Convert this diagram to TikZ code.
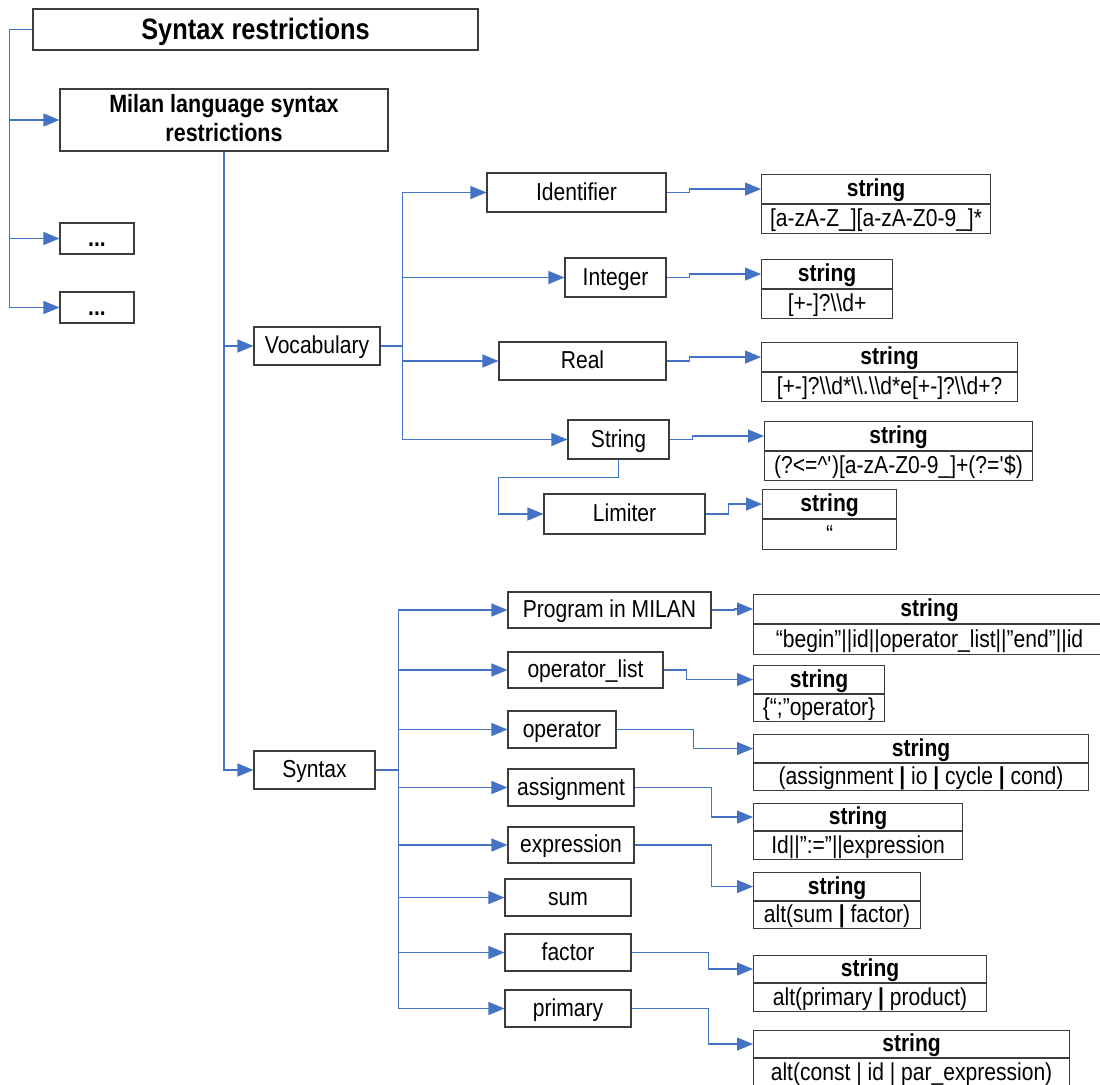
\documentclass[tikz,border=0pt]{standalone}
\usepackage{fontspec}
\setmainfont[FakeStretch=0.86]{Liberation Sans}
\usetikzlibrary{arrows.meta}
\definecolor{linkblue}{HTML}{4472C4}
\definecolor{edgegray}{HTML}{3C3C3C}
\newcommand\bsl{\textbackslash}
% a "string" record: header cell on top of a value cell
% #1 name, #2 x, #3 top y, #4 width, #5 header height, #6 value height, #7 value
\newcommand\strbox[7]{%
  \node[hdr,minimum width=#4pt,minimum height=#5pt] (#1) at (#2,#3) {string};
  \node[bdy,minimum width=#4pt,minimum height=#6pt] (#1b) at (#1.south west) {#7};}

\begin{document}
\begin{tikzpicture}[x=1pt,y=-1pt,
  box/.style={draw=edgegray,line width=1.1pt,fill=white,inner sep=0pt,
    font=\fontsize{24.5}{29}\selectfont,text height=17.5pt,text depth=2.5pt},
  hdr/.style={box,anchor=north west,font=\fontsize{24.5}{29}\selectfont\bfseries},
  bdy/.style={box,anchor=north west},
  link/.style={draw=linkblue,line width=1.2pt,-{Triangle[length=16pt,width=13pt]}}
]
\useasboundingbox (0,0) rectangle (1100,1084);
\fill[white] (0,0) rectangle (1100,1084);

% ---------- top level ----------
\node[box,minimum width=445pt,minimum height=41pt,
  font=\fontsize{29.5}{35}\selectfont\bfseries,text height=21.5pt,text depth=2pt]
  (title) at (255.5,29.5) {Syntax restrictions};
\node[box,minimum width=328pt,minimum height=62pt] (milan) at (224,120) {};
\node[font=\fontsize{25}{28.5}\selectfont\bfseries,align=center,inner sep=0pt]
  (milanlbl) at (224,118.3) {Milan language syntax\\restrictions};
\node[box,minimum width=74pt,minimum height=31pt,font=\fontsize{24.5}{29}\selectfont\bfseries]
  (dotsA) at (97,238.5) {...};
\node[box,minimum width=74pt,minimum height=31pt,font=\fontsize{24.5}{29}\selectfont\bfseries]
  (dotsB) at (97,307.5) {...};

% ---------- vocabulary branch ----------
\node[box,minimum width=126pt,minimum height=38pt] (voc) at (317,346) {Vocabulary};
\node[box,minimum width=179pt,minimum height=39pt] (ident) at (576.5,192.5) {Identifier};
\node[box,minimum width=101pt,minimum height=39pt] (integ) at (615.5,277.5) {Integer};
\node[box,minimum width=167pt,minimum height=38pt] (real) at (582.5,361) {Real};
\node[box,minimum width=101pt,minimum height=39pt] (strg) at (618.5,439.5) {String};
\node[box,minimum width=161pt,minimum height=40pt] (lim) at (624.5,514) {Limiter};

\strbox{sA}{761}{174}{229}{29}{29}{[a-zA-Z\_][a-zA-Z0-9\_]*}
\strbox{sB}{761}{259}{131}{29}{29}{[+-]?\bsl\bsl d+}
\strbox{sC}{761}{342}{256}{29}{29}{[+-]?\bsl\bsl d*\bsl\bsl.\bsl\bsl d*e[+-]?\bsl\bsl d+?}
\strbox{sD}{764}{421}{268}{29}{29}{(?<=\textasciicircum\textquotesingle)[a-zA-Z0-9\_]+(?=\textquotesingle\$)}
\strbox{sE}{762}{489}{134}{29}{30}{“}

% ---------- syntax branch ----------
\node[box,minimum width=121pt,minimum height=38pt] (syn) at (314.5,770) {Syntax};
\node[box,minimum width=203pt,minimum height=36pt] (prog) at (609.5,610) {Program in MILAN};
\node[box,minimum width=155pt,minimum height=36pt] (oplist) at (585.5,670) {operator\_list};
\node[box,minimum width=108pt,minimum height=37pt] (oper) at (562,729.5) {operator};
\node[box,minimum width=126pt,minimum height=37pt] (assign) at (571,787.5) {assignment};
\node[box,minimum width=126pt,minimum height=36pt] (expr) at (571,845) {expression};
\node[box,minimum width=126pt,minimum height=37pt] (sum) at (568,897.5) {sum};
\node[box,minimum width=126pt,minimum height=37pt] (fact) at (568,952.5) {factor};
\node[box,minimum width=126pt,minimum height=37pt] (prim) at (568,1008.5) {primary};

\strbox{sF}{753}{594}{352}{29}{30}{“begin”||id||operator\_list||”end”||id}
\strbox{sG}{753}{665}{131}{28}{27}{\{“;”operator\}}
\strbox{sH}{753}{734}{335}{28}{27}{(assignment \textbf{|} io \textbf{|} cycle \textbf{|} cond)}
\strbox{sI}{753}{803}{209}{27}{28}{Id||”:=”||expression}
\strbox{sJ}{753}{872}{167}{28}{27}{alt(sum \textbf{|} factor)}
\strbox{sK}{753}{955}{233}{27}{28}{alt(primary \textbf{|} product)}
\strbox{sL}{753}{1030}{316}{27}{28}{alt(const | id | par\_expression)}

% ---------- connectors ----------
\draw[link] (title.west) -- ++(-23,0) |- (milan.west);
\draw[link] (title.west) -- ++(-23,0) |- (dotsA.west);
\draw[link] (title.west) -- ++(-23,0) |- (dotsB.west);

\draw[link] (milan.south) |- (voc.west);
\draw[link] (milan.south) |- (syn.west);

\foreach \n in {ident,integ,real,strg}
  \draw[link] (voc.east) -- ++(22,0) |- (\n.west);
\draw[link] (strg.south) -- ++(0,18) -| ([xshift=-45pt]lim.west) -- (lim.west);

\draw[link] (ident.east) -- ++(23,0) |- (sA.west);
\draw[link] (integ.east) -- ++(23,0) |- (sB.west);
\draw[link] (real.east)  -- ++(23,0) |- (sC.west);
\draw[link] (strg.east)  -- ++(23,0) |- (sD.west);
\draw[link] (lim.east)   -- ++(23,0) |- (sE.west);

\foreach \n in {prog,oplist,oper,assign,expr,sum,fact,prim}
  \draw[link] (syn.east) -- ++(23,0) |- (\n.west);

\draw[link] (prog.east)   -- ++(23,0) |- (sF.west);
\draw[link] (oplist.east) -- ++(23,0) |- (sG.west);
\draw[link] (oper.east)   -- ++(77,0) |- (sH.west);
\draw[link] (assign.east) -- ++(77,0) |- (sI.west);
\draw[link] (expr.east)   -- ++(77,0) |- (sJ.west);
\draw[link] (fact.east)   -- ++(77,0) |- (sK.west);
\draw[link] (prim.east)   -- ++(77,0) |- (sL.west);
\end{tikzpicture}
\end{document}
